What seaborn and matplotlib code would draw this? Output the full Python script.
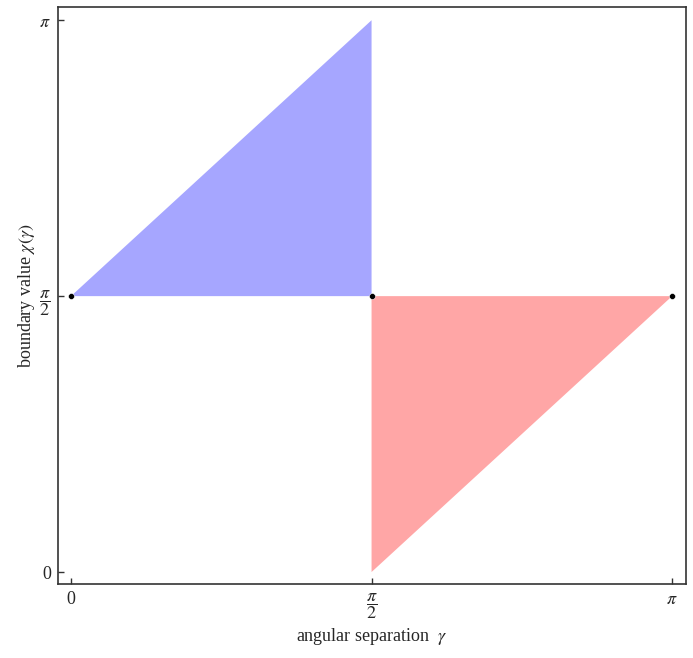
import numpy as np
import pandas as pd
import matplotlib
matplotlib.use("Agg")
import matplotlib.pyplot as plt
import seaborn as sns

# triangle corners (gamma, chi)
blue_x = [0, np.pi / 2, np.pi / 2]
blue_y = [np.pi / 2, np.pi, np.pi / 2]
red_x = [np.pi / 2, np.pi / 2, np.pi]
red_y = [np.pi / 2, 0, np.pi / 2]

# marked points
dot_x = [0, np.pi / 2, np.pi]
dot_y = [np.pi / 2, np.pi / 2, np.pi / 2]

tick_vals = [0, np.pi / 2, np.pi]
tick_labels = ["0", r"$\dfrac{\pi}{2}$", r"$\pi$"]

sns.set_style("ticks")
plt.rcParams['font.family'] = ['Liberation Serif', 'DejaVu Serif']
plt.rcParams['mathtext.fontset'] = 'stix'

fig = plt.figure(figsize=(6.93, 6.58), dpi=100)
ax = fig.add_axes([0.0837, 0.1125, 0.9063, 0.8765])

ax.fill(blue_x, blue_y, color="#a6a6ff", lw=0)
ax.fill(red_x, red_y, color="#ffa6a6", lw=0)

dots = pd.DataFrame({"x": dot_x, "y": dot_y})
sns.scatterplot(data=dots, x="x", y="y", color="black", s=18, ax=ax, zorder=5)

ax.set_xlim(-0.068, np.pi + 0.073)
ax.set_ylim(-0.068, np.pi + 0.074)
ax.set_xticks(tick_vals)
ax.set_xticklabels(tick_labels, fontsize=13)
ax.set_yticks(tick_vals)
ax.set_yticklabels(tick_labels, fontsize=13)
ax.tick_params(direction="in", length=4, width=1, color="#333333", pad=5)

for sp in ax.spines.values():
    sp.set_color("#333333")
    sp.set_linewidth(1.2)

ax.set_xlabel(r"angular separation  $\gamma$", fontsize=13, labelpad=4)
ax.set_ylabel(r"boundary value $\chi(\gamma)$", fontsize=13, labelpad=2)

plt.savefig("out.png", dpi=100)
